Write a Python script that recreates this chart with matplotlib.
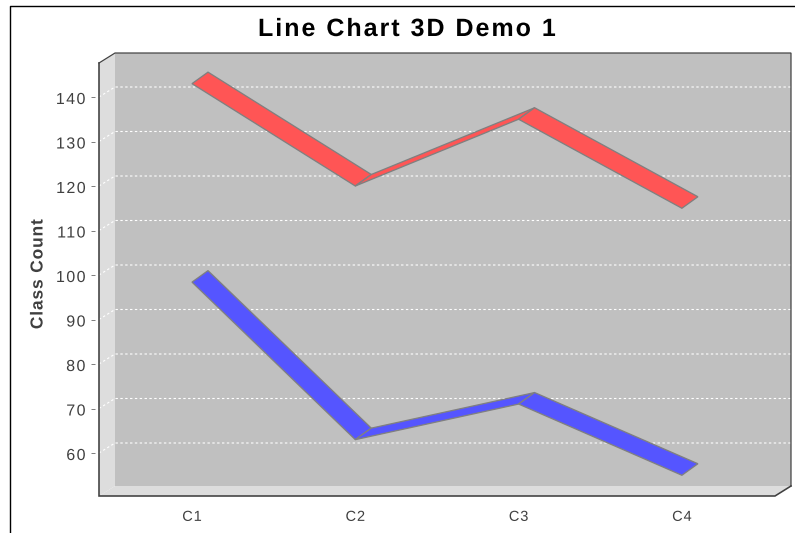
import numpy as np
import matplotlib
matplotlib.use("Agg")
import matplotlib.pyplot as plt
from matplotlib.lines import Line2D
from matplotlib.patches import Polygon
from matplotlib.path import Path
from matplotlib.patheffects import AbstractPathEffect

plt.rcParams['font.family'] = ['Liberation Sans', 'DejaVu Sans']

categories = ["C1", "C2", "C3", "C4"]
series_red = [143, 120, 135, 115]
series_blue = [98.4, 63, 71, 55]
y_ticks = [60, 70, 80, 90, 100, 110, 120, 130, 140]

W, H = 795, 533
PX = 0.72  # one pixel in points at dpi 100

# front panel in pixels
left, right, top, bottom = 99, 775, 63, 496
depth_x, depth_y = 16, 10
ribbon_depth_y = 11.5


class LetterSpacing(AbstractPathEffect):
    # matplotlib has no tracking, so spread the glyphs out when the text is drawn
    def __init__(self, em, anchor=0.5, drop=0):
        super().__init__()
        self.em = em * 100  # text paths are 100 units to the em
        self.anchor = anchor
        self.drop = drop

    def draw_path(self, renderer, gc, tpath, affine, rgbFace=None):
        verts = np.array(tpath.vertices)
        codes = tpath.codes
        starts = list(np.flatnonzero(codes == Path.MOVETO)) + [len(verts)]
        shift = 0
        edge = None
        for a, b in zip(starts[:-1], starts[1:]):
            xs = verts[a:b, 0][codes[a:b] != Path.CLOSEPOLY]
            lo, hi = xs.min(), xs.max()
            if edge is not None and lo >= edge:
                shift += self.em
                if lo - edge > 20:  # a word space
                    shift += self.em
            edge = hi if edge is None or lo >= edge else max(edge, hi)
            verts[a:b, 0] += shift
        verts[:, 0] -= shift * self.anchor
        renderer.draw_path(gc, Path(verts, codes), affine.frozen().translate(0, -self.drop), rgbFace)


fig = plt.figure(figsize=(W / 100, H / 100), dpi=100, facecolor="white")
ax = fig.add_axes([left / W, 1 - bottom / H, (right - left) / W, (bottom - top) / H])
ax.patch.set_visible(False)

# scales
step_x = 163.3
per_unit = 4.45
ax.set_xlim((left - 192) / step_x, (right - 192) / step_x)
ax.set_ylim(60 + (453 - bottom) / per_unit, 60 + (453 - top) / per_unit)
dx = depth_x / step_x
dy = depth_y / per_unit
ribbon_dy = ribbon_depth_y / per_unit
x0, x1 = ax.get_xlim()
y0, y1 = ax.get_ylim()

# walls
ax.add_patch(Polygon([(x0 + dx, y0 + dy), (x1 + dx, y0 + dy), (x1 + dx, y1 + dy), (x0 + dx, y1 + dy)],
                     fc="#c0c0c0", ec="none", clip_on=False, zorder=1))
ax.add_patch(Polygon([(x0, y0), (x0 + dx, y0 + dy), (x0 + dx, y1 + dy), (x0, y1)],
                     fc="#dddddd", ec="none", clip_on=False, zorder=1))
ax.add_patch(Polygon([(x0, y0), (x1, y0), (x1 + dx, y0 + dy), (x0 + dx, y0 + dy)],
                     fc="#dddddd", ec="none", clip_on=False, zorder=1))

# grid on back and left walls
for v in y_ticks:
    ax.plot([x0, x0 + dx, x1 + dx], [v, v + dy, v + dy], color="white", lw=1.1 * PX,
            ls=(0, (2.2, 2.2)), clip_on=False, zorder=2)

# outline
ax.plot([x0, x0, x1, x1 + dx], [y1, y0, y0, y0 + dy], color="#404040", lw=1.6 * PX,
        clip_on=False, zorder=3, solid_joinstyle="miter")
ax.plot([x0, x0 + dx, x1 + dx, x1 + dx], [y1, y1 + dy, y1 + dy, y0 + dy], color="#404040", lw=1.2 * PX,
        clip_on=False, zorder=3, solid_joinstyle="miter")

# series ribbons
xs = range(len(categories))
for values, colour in [(series_red, "#ff5555"), (series_blue, "#5555ff")]:
    for i in range(len(values) - 1):
        ax.fill([xs[i], xs[i + 1], xs[i + 1] + dx, xs[i] + dx],
                [values[i], values[i + 1], values[i + 1] + ribbon_dy, values[i] + ribbon_dy],
                fc=colour, ec="#808080", lw=1.3 * PX, joinstyle="miter", zorder=4)

for s in ax.spines.values():
    s.set_visible(False)
ax.spines['left'].set_position(('outward', 4 * PX))
ax.set_yticks(y_ticks)
ax.set_xticks(list(xs))
ax.set_xticklabels(categories)
ax.tick_params(axis='y', length=4 * PX, width=1 * PX, color="#808080", labelcolor="#404040",
               labelsize=11.5, pad=5.5 * PX)
ax.tick_params(axis='x', length=0, labelcolor="#404040", labelsize=10.5, pad=10)
for lab in ax.get_yticklabels():
    lab.set_path_effects([LetterSpacing(0.09, anchor=1.0, drop=1)])
for lab in ax.get_xticklabels():
    lab.set_path_effects([LetterSpacing(0.06)])

fig.text(38 / W, 1 - 274 / H, "Class Count", rotation=90, ha="center", va="center",
         fontsize=12.5, fontweight="bold", color="#404040",
         path_effects=[LetterSpacing(0.05)])
fig.text(407 / W, 1 - 29 / H, "Line Chart 3D Demo 1", ha="center", va="center",
         fontsize=18, fontweight="bold", color="black",
         path_effects=[LetterSpacing(0.08)])

# chart border, left and top only
fig.add_artist(Line2D([9.5 / W, 9.5 / W, 1], [0, 1 - 5.5 / H, 1 - 5.5 / H], color="black", lw=1.4 * PX))

fig.savefig("out.png", dpi=100)
